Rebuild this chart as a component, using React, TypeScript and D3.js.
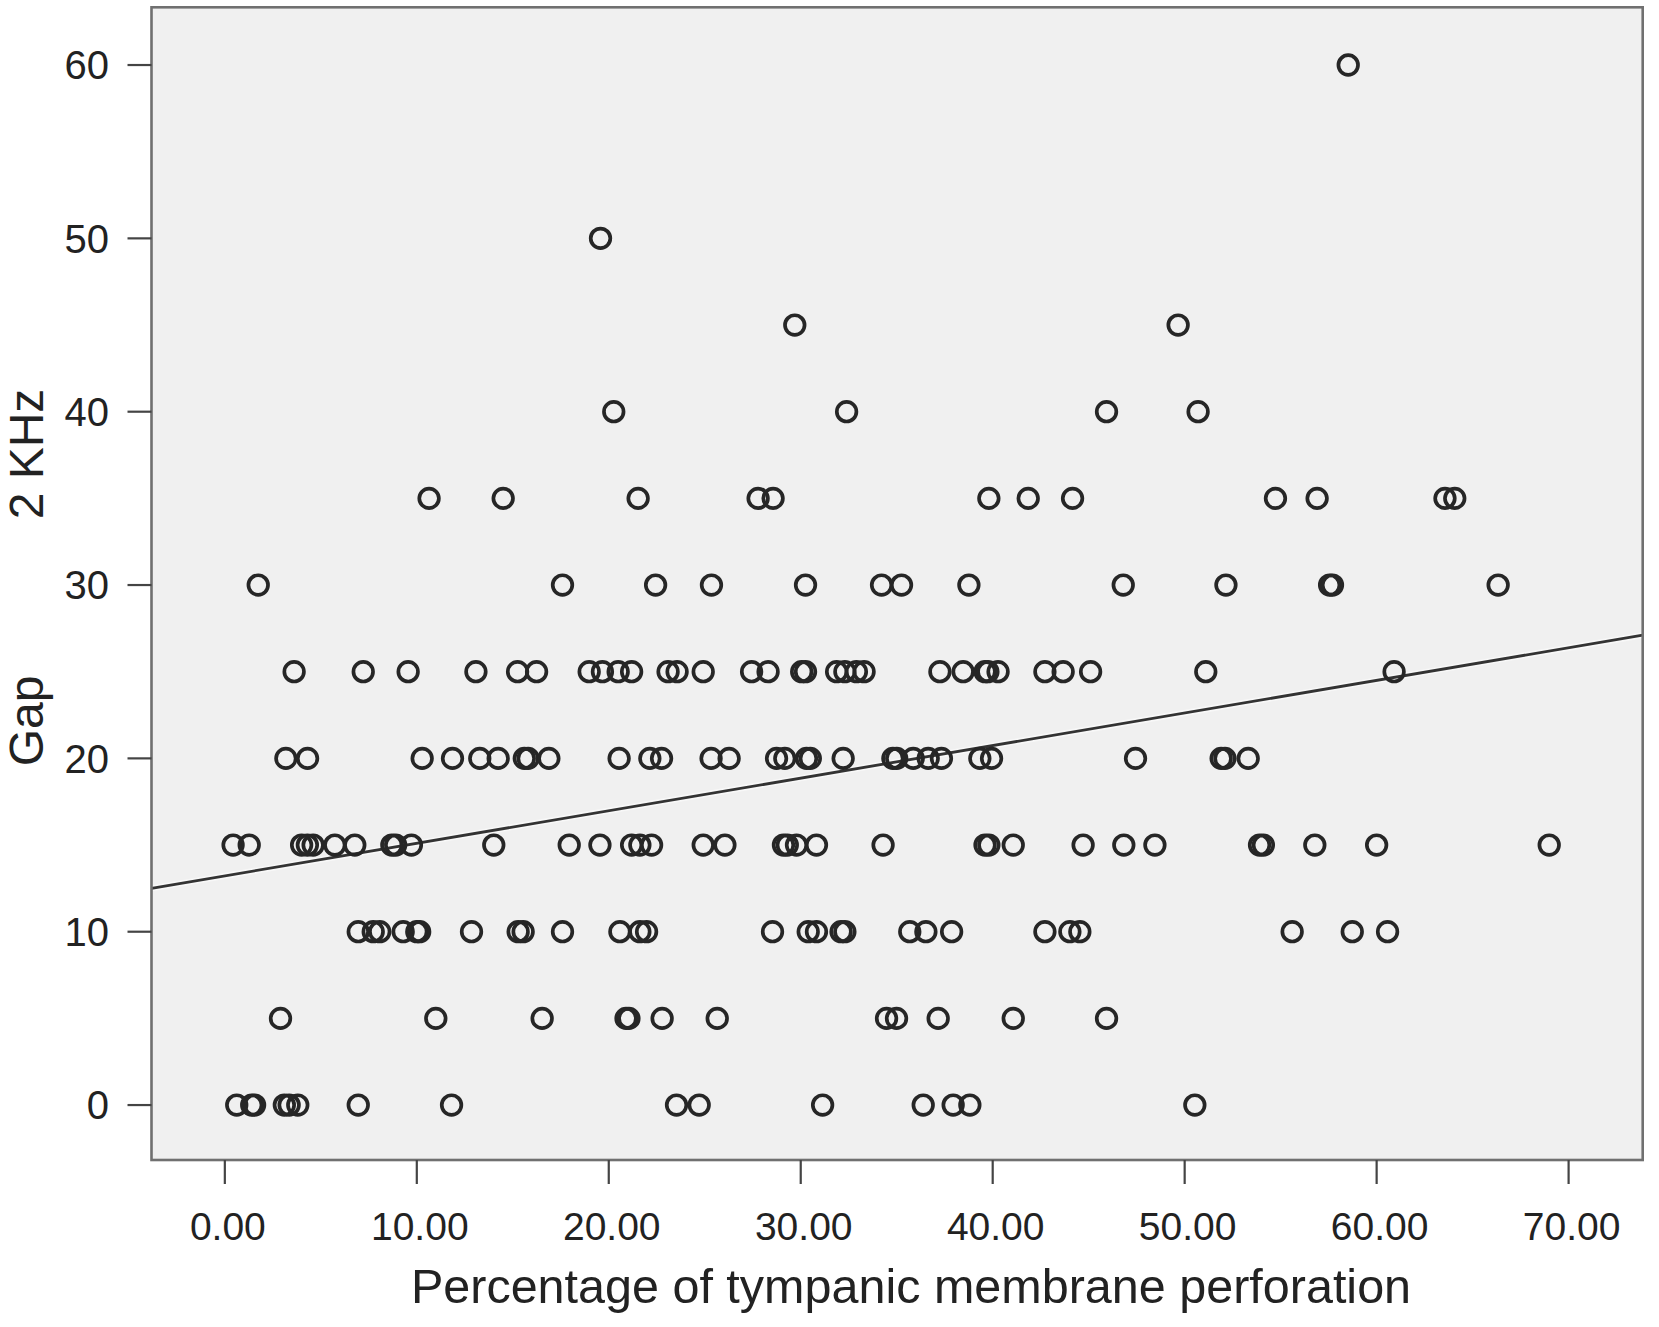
import React from "react";
import * as d3 from "d3";

// Percentage of perforation (x) for each observed Gap value at 2 kHz (y)
const gap0 = [0.62, 1.4, 1.55, 3.1, 3.35, 3.8, 6.95, 11.81, 23.53, 24.71, 31.14, 36.38, 37.94, 38.81, 50.53];
const gap5 = [2.9, 10.99, 16.53, 20.9, 21.05, 22.78, 25.65, 34.47, 34.99, 37.16, 41.07, 45.93];
const gap10 = [6.95, 7.73, 8.07, 9.29, 10.0, 10.15, 12.85, 15.28, 15.54, 17.59, 20.58, 21.62, 21.97, 28.53, 30.39, 30.82, 32.1, 32.3, 35.68, 36.52, 37.86, 42.72, 44.02, 44.54, 55.6, 58.73, 60.57];
const gap15 = [0.43, 1.27, 4.0, 4.3, 4.6, 5.73, 6.77, 8.7, 8.9, 9.72, 14.01, 17.94, 19.54, 21.19, 21.62, 22.23, 24.92, 26.05, 29.1, 29.3, 29.78, 30.82, 34.29, 39.6, 39.8, 41.07, 44.71, 46.83, 48.45, 53.9, 54.1, 56.78, 60.0, 68.99];
const gap20 = [3.18, 4.31, 10.28, 11.86, 13.28, 14.24, 15.6, 15.8, 16.88, 20.54, 22.14, 22.75, 25.33, 26.27, 28.74, 29.17, 30.3, 30.5, 32.21, 34.8, 35.0, 35.86, 36.64, 37.33, 39.33, 39.94, 47.44, 51.9, 52.1, 53.31];
const gap25 = [3.61, 7.21, 9.55, 13.08, 15.25, 16.24, 18.98, 19.67, 20.49, 21.19, 23.09, 23.56, 24.92, 27.44, 28.3, 30.05, 30.25, 31.87, 32.3, 32.9, 33.3, 37.25, 38.46, 39.6, 39.75, 40.28, 42.72, 43.67, 45.1, 51.1, 60.91];
const gap30 = [1.74, 17.59, 22.44, 25.35, 30.25, 34.21, 35.25, 38.76, 46.8, 52.15, 57.55, 57.7, 66.33];
const gap35 = [10.64, 14.5, 21.53, 27.78, 28.56, 39.8, 41.85, 44.16, 54.73, 56.9, 63.56, 64.07];
const gap40 = [20.26, 32.39, 45.93, 50.7];
const gap45 = [29.69, 49.66];
const gap50 = [19.57];
const gap60 = [58.52];

const gapLevels = [0, 5, 10, 15, 20, 25, 30, 35, 40, 45, 50, 60];
const gapGroups = [gap0, gap5, gap10, gap15, gap20, gap25, gap30, gap35, gap40, gap45, gap50, gap60];

const xTicks = [0, 10, 20, 30, 40, 50, 60, 70];
const yTicks = [0, 10, 20, 30, 40, 50, 60];

// Linear fit line as drawn
const fitIntercept = 13.22;
const fitSlope = 0.188;

const xTitle = "Percentage of tympanic membrane perforation";
const yTitleA = "Gap";
const yTitleB = "2 KHz";

export default function App() {
  const W = 1659;
  const H = 1327;
  const left = 151.5;
  const right = 1642.7;
  const top = 7.3;
  const bottom = 1160;

  const x = d3.scaleLinear().domain([-3.82, 73.86]).range([left, right]);
  const y = d3.scaleLinear().domain([-3.17, 63.33]).range([bottom, top]);

  const points = gapGroups.flatMap((g, i) => g.map((v) => ({ px: v, gy: gapLevels[i] })));

  const [d0, d1] = x.domain();
  const line = d3
    .line<number>()
    .x((d) => x(d))
    .y((d) => y(fitIntercept + fitSlope * d));
  const fitPath = line([d0, d1]) || "";

  const font = "'Liberation Sans', Arial, Helvetica, sans-serif";

  return (
    <div style={{ position: "absolute", left: 0, top: 0, background: "#fff" }}>
      <svg width={W} height={H} viewBox={`0 0 ${W} ${H}`} style={{ display: "block" }}>
        <rect x={0} y={0} width={W} height={H} fill="#ffffff" />
        <defs>
          <clipPath id="plotClip">
            <rect x={left} y={top} width={right - left} height={bottom - top} />
          </clipPath>
        </defs>
        <rect x={left} y={top} width={right - left} height={bottom - top} fill="#f0f0f0" />
        <g clipPath="url(#plotClip)">
          <path d={fitPath} fill="none" stroke="#f8f8f8" strokeWidth={6} />
          <path d={fitPath} fill="none" stroke="#333333" strokeWidth={2.8} />
          {points.map((p, i) => (
            <circle
              key={i}
              cx={x(p.px)}
              cy={y(p.gy)}
              r={9.8}
              fill="none"
              stroke="#262626"
              strokeWidth={3.7}
            />
          ))}
        </g>
        <rect
          x={left}
          y={top}
          width={right - left}
          height={bottom - top}
          fill="none"
          stroke="#707070"
          strokeWidth={2.6}
        />
        {xTicks.map((t) => (
          <g key={"x" + t}>
            <line x1={x(t)} x2={x(t)} y1={bottom} y2={bottom + 24} stroke="#444" strokeWidth={2.2} />
            <text
              x={x(t) + 3}
              y={1240}
              textAnchor="middle"
              fontFamily={font}
              fontSize={39}
              fill="#222"
            >
              {t.toFixed(2)}
            </text>
          </g>
        ))}
        {yTicks.map((t) => (
          <g key={"y" + t}>
            <line x1={left - 24} x2={left} y1={y(t)} y2={y(t)} stroke="#444" strokeWidth={2.2} />
            <text
              x={109}
              y={y(t)}
              dy="0.36em"
              textAnchor="end"
              fontFamily={font}
              fontSize={40}
              fill="#222"
            >
              {t}
            </text>
          </g>
        ))}
        <text
          x={911}
          y={1303}
          textAnchor="middle"
          fontFamily={font}
          fontSize={48.5}
          fill="#222"
        >
          {xTitle}
        </text>
        <text
          transform={`translate(43, 721) rotate(-90)`}
          textAnchor="middle"
          fontFamily={font}
          fontSize={48}
          fill="#222"
        >
          {yTitleA}
        </text>
        <text
          transform={`translate(43, 454) rotate(-90)`}
          textAnchor="middle"
          fontFamily={font}
          fontSize={48}
          fill="#222"
        >
          {yTitleB}
        </text>
      </svg>
    </div>
  );
}
